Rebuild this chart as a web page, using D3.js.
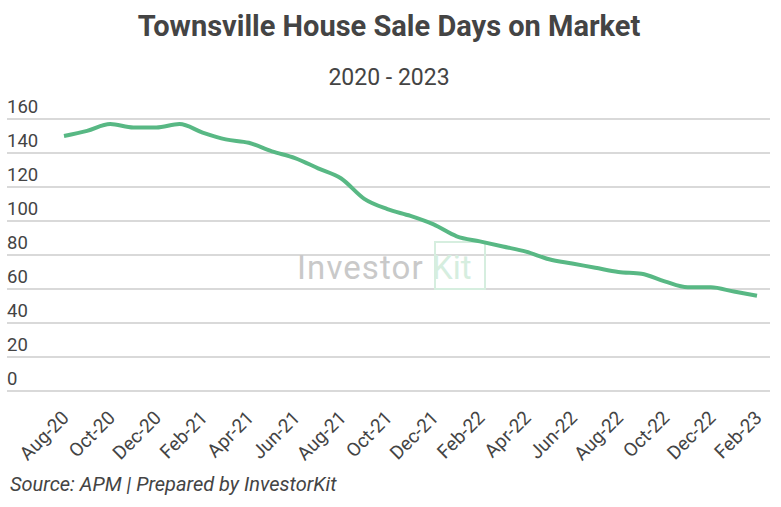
<!DOCTYPE html>
<html>
<head>
<meta charset="utf-8">
<script src="https://cdn.jsdelivr.net/npm/d3@7"></script>
<style>
  body { margin: 0; background: #fff; }
  svg { display: block; font-family: Roboto, "Noto Sans", sans-serif; }
</style>
</head>
<body>
<svg id="chart"></svg>
<script>
// data
const months = [
  "Aug-20", "Sep-20", "Oct-20", "Nov-20", "Dec-20",
  "Jan-21", "Feb-21", "Mar-21", "Apr-21", "May-21", "Jun-21", "Jul-21",
  "Aug-21", "Sep-21", "Oct-21", "Nov-21", "Dec-21",
  "Jan-22", "Feb-22", "Mar-22", "Apr-22", "May-22", "Jun-22", "Jul-22",
  "Aug-22", "Sep-22", "Oct-22", "Nov-22", "Dec-22",
  "Jan-23", "Feb-23"
];
const daysOnMarket = [
  150, 153, 157, 155, 155,
  157, 152, 148, 146, 141, 137, 131,
  125, 113, 107, 103, 98,
  91, 88, 85, 82, 77.5, 75, 72.5,
  70, 69, 64.5, 61, 61,
  58.5, 56
];
const yTicks = [0, 20, 40, 60, 80, 100, 120, 140, 160];
// every second month gets a label
const xLabels = months.filter((d, i) => i % 2 === 0);

const width = 781;
const height = 507;
const textColor = "#444";

const svg = d3.select("#chart")
  .attr("width", width)
  .attr("height", height)
  .attr("viewBox", `0 0 ${width} ${height}`);

const x = d3.scalePoint().domain(months).range([64, 757]);
const y = d3.scaleLinear().domain([0, 160]).range([391, 119]);

// titles
svg.append("text")
  .attr("x", 389)
  .attr("y", 36)
  .attr("text-anchor", "middle")
  .attr("font-size", 29)
  .attr("font-weight", "bold")
  .attr("fill", textColor)
  .text("Townsville House Sale Days on Market");

svg.append("text")
  .attr("x", 389)
  .attr("y", 85)
  .attr("text-anchor", "middle")
  .attr("font-size", 23)
  .attr("fill", textColor)
  .text("2020 - 2023");

// gridlines + labels sitting above each line
const grid = svg.append("g")
  .selectAll("g")
  .data(yTicks)
  .join("g")
  .attr("transform", (d) => `translate(0,${y(d)})`);

grid.append("line")
  .attr("x1", 7)
  .attr("x2", 770)
  .attr("stroke", "#d9d9d9")
  .attr("stroke-width", 2);

grid.append("text")
  .attr("x", 7)
  .attr("y", -6)
  .attr("font-size", 18.5)
  .attr("fill", textColor)
  .text((d) => d);

// watermark
const wm = svg.append("g");
wm.append("text")
  .attr("x", 297)
  .attr("y", 279)
  .attr("font-size", 33)
  .attr("fill", "#c9c9c9")
  .attr("letter-spacing", 1.1)
  .text("Investor");
wm.append("rect")
  .attr("x", 435)
  .attr("y", 242)
  .attr("width", 50)
  .attr("height", 47)
  .attr("fill", "none")
  .attr("stroke", "#d6eedf")
  .attr("stroke-width", 2);
wm.append("text")
  .attr("x", 432)
  .attr("y", 279)
  .attr("font-size", 33)
  .attr("fill", "#d6eedf")
  .text("Kit");

// x axis labels
svg.append("g")
  .selectAll("text")
  .data(xLabels)
  .join("text")
  .attr("transform", (d) => `translate(${x(d) + 6},419) rotate(-45)`)
  .attr("text-anchor", "end")
  .attr("font-size", 19)
  .attr("fill", textColor)
  .text((d) => d);

// the line
const line = d3.line()
  .x((d, i) => x(months[i]))
  .y((d) => y(d))
  .curve(d3.curveMonotoneX);

svg.append("path")
  .datum(daysOnMarket)
  .attr("d", line)
  .attr("fill", "none")
  .attr("stroke", "#58b884")
  .attr("stroke-width", 4)
  .attr("stroke-linejoin", "round");

// source note
svg.append("text")
  .attr("x", 10)
  .attr("y", 491)
  .attr("font-size", 20)
  .attr("font-style", "italic")
  .attr("fill", textColor)
  .text("Source: APM | Prepared by InvestorKit");
</script>
</body>
</html>
